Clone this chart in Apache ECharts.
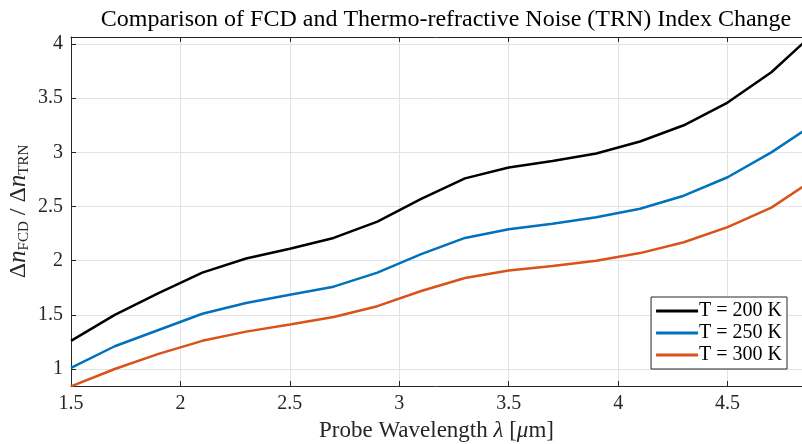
<!DOCTYPE html>
<html>
<head>
<meta charset="utf-8">
<title>FCD vs TRN</title>
<script src="https://cdn.jsdelivr.net/npm/echarts@6/dist/echarts.min.js"></script>
<style>
  html, body { margin: 0; padding: 0; background: #fff; }
</style>
</head>
<body>
<div id="main" style="width:802px;height:444px"></div>
<script>
// wavelength in um
var wavelength = [1.5, 1.7, 1.9, 2.1, 2.3, 2.5, 2.7, 2.9, 3.1, 3.3, 3.5, 3.7, 3.9, 4.1, 4.3, 4.5, 4.7, 4.9];
var t200 = [1.26, 1.50, 1.70, 1.89, 2.02, 2.11, 2.21, 2.36, 2.57, 2.76, 2.86, 2.92, 2.99, 3.10, 3.25, 3.46, 3.74, 4.11];
var t250 = [1.01, 1.21, 1.36, 1.51, 1.61, 1.685, 1.76, 1.89, 2.06, 2.21, 2.29, 2.34, 2.40, 2.48, 2.60, 2.77, 3.00, 3.27];
var t300 = [0.84, 1.00, 1.14, 1.26, 1.345, 1.41, 1.48, 1.58, 1.72, 1.84, 1.91, 1.95, 2.00, 2.07, 2.17, 2.31, 2.49, 2.76];
var seriesNames = ['T = 200 K', 'T = 250 K', 'T = 300 K'];
var xTicks = [1.5, 2, 2.5, 3, 3.5, 4, 4.5];
var yTicks = [1, 1.5, 2, 2.5, 3, 3.5, 4];

var serif = '"Liberation Serif", "DejaVu Serif", serif';
var ink = '#262626';

function pairs(ys) {
  return wavelength.map(function (x, i) { return [x, ys[i]]; });
}

function mkLine(name, ys, color) {
  return {
    name: name,
    type: 'line',
    data: pairs(ys),
    symbol: 'none',
    clip: true,
    lineStyle: { color: color, width: 2.5 },
    itemStyle: { color: color }
  };
}

var chart = echarts.init(document.getElementById('main'));
var option = {
  backgroundColor: '#fff',
  animation: false,
  title: {
    text: 'Comparison of FCD and Thermo-refractive Noise (TRN) Index Change',
    left: 441,
    top: 3,
    textAlign: 'center',
    textStyle: { fontFamily: serif, fontSize: 24, fontWeight: 'normal', color: '#000' }
  },
  grid: { left: 71, right: 0, top: 37, bottom: 58, containLabel: false, outerBoundsMode: 'none' },
  legend: {
    orient: 'vertical',
    right: 15,
    bottom: 75,
    data: seriesNames,
    icon: 'rect',
    itemWidth: 42,
    itemHeight: 3,
    itemGap: 2,
    padding: [4, 5, 4, 5],
    backgroundColor: '#fff',
    borderColor: ink,
    borderWidth: 1,
    borderRadius: 0,
    textStyle: { fontFamily: serif, fontSize: 20, color: '#000', padding: [0, 0, 0, -4] }
  },
  xAxis: [{
    type: 'value',
    min: 1.5,
    max: 4.84,
    name: '{t|Probe Wavelength }{i|λ}{t| [}{i|μ}{t|m]}',
    nameLocation: 'middle',
    nameGap: 33,
    nameMoveOverlap: false,
    nameTextStyle: {
      rich: {
        t: { fontFamily: serif, fontSize: 23, color: ink },
        i: { fontFamily: serif, fontSize: 23, fontStyle: 'italic', color: ink }
      }
    },
    axisLine: { show: true, lineStyle: { color: ink, width: 1 } },
    axisTick: { show: true, inside: true, length: 5, customValues: xTicks, lineStyle: { color: ink } },
    axisLabel: { customValues: xTicks, margin: 8, fontFamily: serif, fontSize: 20, color: ink },
    splitLine: { show: true, lineStyle: { color: '#e3e3e3', width: 1 } }
  }, {
    type: 'value',
    position: 'top',
    min: 1.5,
    max: 4.84,
    axisLine: { show: true, lineStyle: { color: ink, width: 1 } },
    axisTick: { show: true, inside: true, length: 5, customValues: xTicks, lineStyle: { color: ink } },
    axisLabel: { show: false },
    splitLine: { show: false }
  }],
  yAxis: {
    type: 'value',
    min: 0.843,
    max: 4.065,
    name: '{d|Δ}{n|n}{s|FCD}{d| / Δ}{n|n}{s|TRN}',
    nameLocation: 'middle',
    nameRotate: 90,
    nameGap: 39,
    nameMoveOverlap: false,
    nameTextStyle: {
      rich: {
        d: { fontFamily: serif, fontSize: 24, color: ink },
        n: { fontFamily: serif, fontSize: 25, fontStyle: 'italic', color: ink },
        s: { fontFamily: serif, fontSize: 15, color: ink, padding: [12, 0, 0, 0] }
      }
    },
    axisLine: { show: true, lineStyle: { color: ink, width: 1 } },
    axisTick: { show: true, inside: true, length: 5, customValues: yTicks, lineStyle: { color: ink } },
    axisLabel: { customValues: yTicks, margin: 8, fontFamily: serif, fontSize: 20, color: ink },
    splitLine: { show: true, lineStyle: { color: '#e3e3e3', width: 1 } }
  },
  series: [
    mkLine(seriesNames[0], t200, '#000000'),
    mkLine(seriesNames[1], t250, '#0072BD'),
    mkLine(seriesNames[2], t300, '#D95319')
  ]
};
chart.setOption(option);
</script>
</body>
</html>
